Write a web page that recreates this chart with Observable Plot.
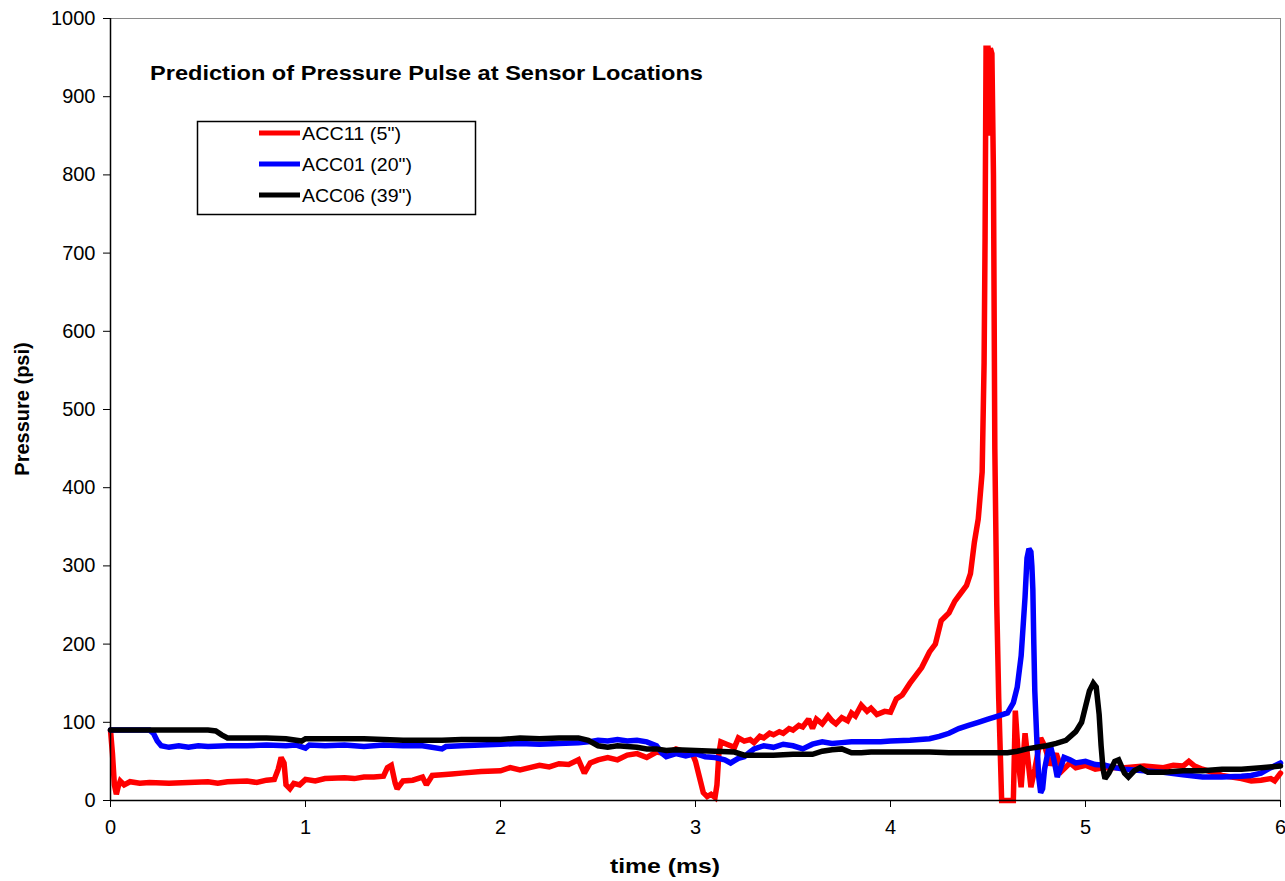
<!DOCTYPE html>
<html>
<head>
<meta charset="utf-8">
<script src="https://cdn.jsdelivr.net/npm/d3@7"></script>
<script src="https://cdn.jsdelivr.net/npm/@observablehq/plot@0.6"></script>
<style>
  html, body { margin: 0; padding: 0; background: #fff; }
  #chart { position: relative; width: 1285px; height: 881px; }
  svg { font-family: "Liberation Sans", Arial, sans-serif; }
</style>
</head>
<body>
<div id="chart"></div>
<script>
// Pressure traces (psi) versus time (ms) at three sensor locations
const tAcc11 = [0, 0.01, 0.02, 0.03, 0.04, 0.05, 0.07, 0.1, 0.15, 0.2, 0.3, 0.4, 0.5, 0.55, 0.6, 0.7, 0.75, 0.8, 0.84, 0.86, 0.875, 0.89, 0.9, 0.92, 0.94, 0.97, 1.0, 1.05, 1.1, 1.2, 1.25, 1.3, 1.35, 1.4, 1.42, 1.44, 1.46, 1.47, 1.5, 1.55, 1.6, 1.62, 1.65, 1.7, 1.75, 1.8, 1.9, 2.0, 2.05, 2.1, 2.15, 2.2, 2.25, 2.3, 2.35, 2.4, 2.43, 2.46, 2.5, 2.55, 2.6, 2.65, 2.7, 2.75, 2.8, 2.85, 2.9, 2.95, 2.98, 3.0, 3.02, 3.04, 3.06, 3.08, 3.1, 3.11, 3.12, 3.13, 3.16, 3.2, 3.22, 3.25, 3.28, 3.3, 3.33, 3.35, 3.38, 3.4, 3.43, 3.45, 3.48, 3.5, 3.53, 3.55, 3.58, 3.6, 3.62, 3.65, 3.68, 3.7, 3.72, 3.75, 3.78, 3.8, 3.82, 3.85, 3.88, 3.9, 3.93, 3.97, 4.0, 4.03, 4.06, 4.1, 4.13, 4.16, 4.2, 4.23, 4.26, 4.28, 4.3, 4.33, 4.36, 4.39, 4.41, 4.43, 4.45, 4.47, 4.48, 4.485, 4.49, 4.5, 4.505, 4.512, 4.52, 4.528, 4.535, 4.545, 4.555, 4.57, 4.6, 4.63, 4.64, 4.66, 4.67, 4.69, 4.72, 4.74, 4.77, 4.79, 4.82, 4.85, 4.88, 4.92, 4.95, 5.0, 5.05, 5.1, 5.2, 5.3, 5.4, 5.45, 5.5, 5.53, 5.56, 5.6, 5.7, 5.75, 5.8, 5.85, 5.9, 5.95, 5.97, 6.0];
const pAcc11 = [90, 60, 20, 8, 18, 25, 20, 24, 22, 23, 22, 23, 24, 22, 24, 25, 23, 26, 27, 40, 55, 48, 20, 15, 22, 20, 27, 25, 28, 29, 28, 30, 30, 31, 42, 45, 22, 15, 25, 26, 30, 20, 32, 33, 34, 35, 37, 38, 42, 39, 42, 45, 43, 47, 46, 52, 35, 48, 52, 55, 52, 58, 60, 55, 62, 60, 66, 62, 62, 50, 30, 10, 5, 8, 4, 20, 60, 75, 72, 68, 80, 76, 78, 74, 82, 80, 86, 84, 88, 86, 92, 90, 96, 94, 104, 92, 104, 98, 108, 102, 98, 106, 102, 112, 108, 122, 114, 118, 110, 114, 113, 130, 135, 150, 160, 170, 190, 200, 230, 235, 240, 255, 265, 275, 290, 330, 360, 420, 560, 720, 962, 962, 850, 962, 955, 800, 450, 250, 130, 0, 0, 0, 115, 40, 17, 86, 17, 40, 80, 70, 45, 60, 38, 48, 42, 45, 40, 42, 42, 44, 42, 45, 44, 50, 44, 40, 32, 30, 28, 25, 26, 28, 25, 35];

const tAcc01 = [0, 0.1, 0.2, 0.22, 0.24, 0.26, 0.3, 0.35, 0.4, 0.45, 0.5, 0.6, 0.7, 0.8, 0.9, 0.95, 1.0, 1.02, 1.1, 1.2, 1.3, 1.4, 1.5, 1.6, 1.7, 1.72, 1.8, 1.9, 2.0, 2.1, 2.2, 2.3, 2.4, 2.45, 2.5, 2.55, 2.6, 2.65, 2.7, 2.75, 2.8, 2.83, 2.85, 2.9, 2.95, 3.0, 3.05, 3.1, 3.15, 3.18, 3.22, 3.25, 3.28, 3.3, 3.35, 3.4, 3.45, 3.5, 3.55, 3.6, 3.65, 3.7, 3.75, 3.8, 3.85, 3.9, 3.95, 4.0, 4.1, 4.2, 4.25, 4.3, 4.35, 4.4, 4.45, 4.5, 4.55, 4.6, 4.63, 4.65, 4.67, 4.69, 4.7, 4.71, 4.72, 4.725, 4.73, 4.735, 4.74, 4.75, 4.76, 4.77, 4.78, 4.79, 4.81, 4.82, 4.84, 4.855, 4.87, 4.89, 4.92, 4.95, 5.0, 5.05, 5.1, 5.15, 5.2, 5.3, 5.4, 5.5, 5.6, 5.7, 5.8, 5.85, 5.9, 5.95, 6.0];
const pAcc01 = [90, 90, 90, 86, 76, 70, 68, 70, 68, 70, 69, 70, 70, 71, 70, 71, 67, 71, 70, 71, 69, 71, 70, 70, 66, 69, 70, 71, 72, 73, 72, 73, 74, 75, 77, 76, 78, 76, 77, 75, 70, 60, 56, 60, 57, 60, 56, 55, 52, 48, 54, 56, 62, 66, 70, 68, 72, 70, 66, 72, 75, 73, 74, 75, 75, 75, 75, 76, 77, 79, 82, 86, 92, 96, 100, 104, 108, 112, 125, 145, 185, 260, 310, 322, 318, 300, 270, 200, 140, 80, 30, 10, 15, 40, 65, 70, 50, 30, 40, 55, 52, 48, 50, 46, 45, 42, 40, 38, 36, 33, 30, 30, 31, 32, 35, 42, 48];

const tAcc06 = [0, 0.5, 0.54, 0.57, 0.6, 0.7, 0.8, 0.9, 0.98, 1.0, 1.1, 1.2, 1.3, 1.4, 1.5, 1.6, 1.7, 1.8, 1.9, 2.0, 2.1, 2.2, 2.3, 2.4, 2.45, 2.5, 2.55, 2.6, 2.7, 2.75, 2.8, 2.85, 2.9, 3.0, 3.1, 3.2, 3.25, 3.3, 3.4, 3.5, 3.6, 3.65, 3.7, 3.75, 3.8, 3.85, 3.9, 4.0, 4.1, 4.2, 4.3, 4.4, 4.5, 4.6, 4.65, 4.7, 4.75, 4.8, 4.85, 4.9, 4.95, 4.98, 5.0, 5.02, 5.04, 5.055, 5.07, 5.08, 5.09, 5.1, 5.12, 5.15, 5.17, 5.2, 5.22, 5.25, 5.28, 5.32, 5.4, 5.5, 5.6, 5.7, 5.8, 5.9, 6.0];
const pAcc06 = [90, 90, 89, 84, 80, 80, 80, 79, 76, 79, 79, 79, 79, 78, 77, 77, 77, 78, 78, 78, 80, 79, 80, 80, 77, 70, 68, 70, 68, 66, 66, 64, 65, 64, 63, 62, 58, 58, 58, 59, 59, 63, 65, 66, 61, 61, 62, 62, 62, 62, 61, 61, 61, 61, 63, 66, 68, 70, 73, 77, 88, 100, 120, 140, 150, 145, 110, 70, 40, 28, 35, 50, 52, 35, 30, 38, 42, 36, 36, 38, 38, 40, 40, 42, 44];

const seriesNames = ["ACC11 (5\")", "ACC01 (20\")", "ACC06 (39\")"];
const seriesColors = ["#ff0000", "#0000ff", "#000000"];
const xTicks = [0, 1, 2, 3, 4, 5, 6];
const yTicks = [0, 100, 200, 300, 400, 500, 600, 700, 800, 900, 1000];

const toRows = (ts, ps) => ts.map((t, i) => ({t, p: ps[i]}));
const traces = [toRows(tAcc11, pAcc11), toRows(tAcc01, pAcc01), toRows(tAcc06, pAcc06)];

const chart = Plot.plot({
  width: 1285,
  height: 881,
  marginLeft: 110,
  marginRight: 5,
  marginTop: 18,
  marginBottom: 81,
  style: {fontFamily: "'Liberation Sans', Arial, sans-serif", fontSize: "20px", color: "#000", background: "#fff"},
  x: {domain: [0, 6]},
  y: {domain: [0, 1000]},
  marks: [
    Plot.frame({stroke: "#8a8a8a", strokeWidth: 1}),
    ...traces.map((rows, i) => Plot.line(rows, {x: "t", y: "p", stroke: seriesColors[i], strokeWidth: 5.5, strokeLinejoin: "miter", strokeMiterlimit: 2})),
    Plot.ruleX([0], {stroke: "#000", strokeWidth: 1.5}),
    Plot.ruleY([0], {stroke: "#000", strokeWidth: 1.5}),
    Plot.axisX(xTicks, {tickSize: 7, tickPadding: 12, label: null, fontSize: 20, tickFormat: d => String(d)}),
    Plot.axisY(yTicks, {tickSize: 7, tickPadding: 8, label: null, fontSize: 20, tickFormat: d => String(d)})
  ]
});

document.getElementById("chart").appendChild(chart);

// Title, axis titles and legend box drawn into the same SVG
const svg = d3.select(chart);
const fontFamily = "'Liberation Sans', Arial, sans-serif";

svg.append("text")
  .attr("x", 150).attr("y", 80)
  .attr("text-anchor", "start")
  .attr("font-family", fontFamily).attr("font-weight", "bold").attr("font-size", 21)
  .attr("textLength", 553).attr("lengthAdjust", "spacingAndGlyphs")
  .attr("fill", "#000")
  .text("Prediction of Pressure Pulse at Sensor Locations");

svg.append("text")
  .attr("x", 610).attr("y", 873)
  .attr("text-anchor", "start")
  .attr("font-family", fontFamily).attr("font-weight", "bold").attr("font-size", 21)
  .attr("textLength", 110).attr("lengthAdjust", "spacingAndGlyphs")
  .attr("fill", "#000")
  .text("time (ms)");

svg.append("text")
  .attr("transform", "translate(29,409) rotate(-90)")
  .attr("text-anchor", "middle")
  .attr("font-family", fontFamily).attr("font-weight", "bold").attr("font-size", 20)
  .attr("fill", "#000")
  .text("Pressure (psi)");

const legend = svg.append("g");
const legendWidths = [99, 110, 110];
legend.append("rect")
  .attr("x", 197.5).attr("y", 121.5).attr("width", 278).attr("height", 93)
  .attr("fill", "#fff").attr("stroke", "#000").attr("stroke-width", 1.5);
seriesNames.forEach((name, i) => {
  const cy = 133 + i * 31;
  legend.append("line")
    .attr("x1", 259).attr("x2", 300).attr("y1", cy).attr("y2", cy)
    .attr("stroke", seriesColors[i]).attr("stroke-width", 5);
  legend.append("text")
    .attr("x", 302).attr("y", cy + 7)
    .attr("text-anchor", "start")
    .attr("font-family", fontFamily).attr("font-size", 19)
    .attr("textLength", legendWidths[i]).attr("lengthAdjust", "spacingAndGlyphs")
    .attr("fill", "#000")
    .text(name);
});
</script>
</body>
</html>
